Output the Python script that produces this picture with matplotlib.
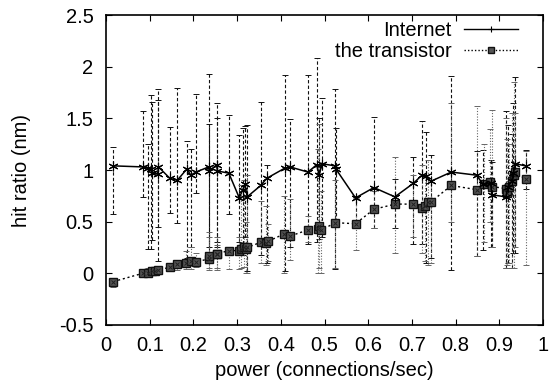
import matplotlib
matplotlib.use("Agg")
import matplotlib.pyplot as plt
from matplotlib.lines import Line2D
import numpy as np

plt.rcParams["font.family"] = ["Liberation Sans", "DejaVu Sans"]

# Internet series: x, mean, min, max
inet_x = [0.017, 0.084, 0.095, 0.102, 0.105, 0.118, 0.120, 0.146, 0.163, 0.185,
          0.194, 0.206, 0.235, 0.236, 0.253, 0.255, 0.281, 0.305, 0.313, 0.318,
          0.323, 0.354, 0.368, 0.410, 0.421, 0.462, 0.482, 0.488, 0.494, 0.525,
          0.526, 0.571, 0.613, 0.661, 0.703, 0.723, 0.732, 0.743, 0.790, 0.848,
          0.863, 0.880, 0.883, 0.915, 0.920, 0.928, 0.932, 0.937, 0.960]
inet_y = [1.04, 1.03, 1.02, 1.01, 0.97, 0.96, 1.03, 0.92, 0.90, 1.01,
          0.95, 0.98, 1.03, 0.99, 1.05, 0.99, 0.97, 0.73, 0.81, 0.86,
          0.74, 0.85, 0.92, 1.02, 1.03, 0.98, 1.05, 0.95, 1.06, 1.04,
          1.01, 0.73, 0.83, 0.74, 0.87, 0.95, 0.94, 0.89, 0.98, 0.95,
          0.86, 0.87, 0.76, 0.74, 0.84, 0.89, 0.97, 1.06, 1.04]
inet_lo = [0.57, 0.74, 0.24, 0.24, 0.32, 0.12, 0.45, 0.58, 0.49, 0.15,
           0.25, 0.78, 0.18, 0.25, 0.25, 0.30, 0.57, 0.30, 0.18, 0.35,
           0.02, 0.18, 0.10, 0.02, 0.25, 0.28, 0.30, 0.33, 0.35, 0.04,
           0.45, 0.44, 0.44, 0.44, 0.28, 0.28, 0.10, 0.15, 0.03, 0.17,
           0.23, 0.25, 0.25, 0.05, 0.10, 0.05, 0.20, 0.20, 0.82]
inet_hi = [1.22, 1.57, 1.25, 1.73, 1.66, 1.78, 1.68, 1.42, 1.79, 1.28,
           1.20, 1.74, 1.93, 1.45, 1.65, 1.50, 1.53, 1.34, 1.41, 1.43,
           1.44, 1.66, 1.05, 1.92, 1.49, 1.92, 2.08, 1.50, 1.70, 1.78,
           1.41, 0.75, 1.51, 0.91, 1.13, 1.47, 1.37, 1.15, 1.91, 1.18,
           1.19, 1.10, 1.08, 1.57, 1.44, 1.35, 1.65, 1.90, 1.19]

# the transistor series: x, mean, min, max
tr_x = [0.017, 0.084, 0.095, 0.105, 0.112, 0.120, 0.146, 0.163, 0.183, 0.194,
        0.206, 0.235, 0.236, 0.253, 0.255, 0.281, 0.305, 0.310, 0.316, 0.320,
        0.323, 0.354, 0.365, 0.371, 0.407, 0.421, 0.462, 0.484, 0.488, 0.493,
        0.525, 0.571, 0.613, 0.662, 0.703, 0.722, 0.731, 0.737, 0.743, 0.790,
        0.848, 0.865, 0.879, 0.883, 0.915, 0.918, 0.923, 0.929, 0.934, 0.937,
        0.960]
tr_y = [-0.08, 0.00, 0.006, 0.02, 0.02, 0.03, 0.06, 0.09, 0.10, 0.115,
        0.11, 0.14, 0.17, 0.19, 0.19, 0.22, 0.22, 0.24, 0.25, 0.24,
        0.25, 0.30, 0.29, 0.31, 0.38, 0.36, 0.42, 0.43, 0.46, 0.42,
        0.49, 0.48, 0.62, 0.67, 0.67, 0.63, 0.65, 0.69, 0.69, 0.85,
        0.81, 0.86, 0.88, 0.84, 0.82, 0.78, 0.84, 0.89, 0.95, 0.98,
        0.91]
tr_lo = [-0.13, -0.03, -0.03, 0.00, 0.00, 0.00, 0.03, 0.03, 0.04, 0.04,
         0.06, 0.03, 0.05, 0.03, 0.05, 0.04, 0.04, 0.05, 0.06, 0.00,
         0.00, 0.10, 0.08, 0.12, 0.00, 0.13, 0.30, 0.00, 0.05, 0.00,
         0.05, 0.23, 0.44, 0.20, 0.35, 0.20, 0.12, 0.08, 0.10, 0.50,
         0.17, 0.30, 0.50, 0.25, 0.05, 0.08, 0.10, 0.05, 0.05, 0.25,
         0.08]
tr_hi = [-0.05, 0.02, 0.05, 0.05, 0.05, 0.06, 0.09, 0.12, 0.22, 0.25,
         0.20, 0.35, 0.40, 0.27, 0.35, 0.25, 0.35, 0.85, 0.90, 0.50,
         0.95, 0.70, 0.65, 0.48, 0.75, 0.72, 0.55, 1.20, 1.45, 0.80,
         0.90, 0.73, 0.80, 1.13, 0.95, 1.05, 0.95, 1.10, 0.90, 1.65,
         1.62, 1.25, 1.40, 1.58, 1.50, 1.30, 1.25, 1.55, 1.85, 1.55,
         1.18]

x_ticks = [0, 0.1, 0.2, 0.3, 0.4, 0.5, 0.6, 0.7, 0.8, 0.9, 1]
x_labels = ["0", "0.1", "0.2", "0.3", "0.4", "0.5", "0.6", "0.7", "0.8", "0.9", "1"]
y_ticks = [-0.5, 0, 0.5, 1, 1.5, 2, 2.5]
y_labels = ["-0.5", "0", "0.5", "1", "1.5", "2", "2.5"]

FS = 14.5

fig = plt.figure(figsize=(5.51, 3.90), dpi=100)
ax = fig.add_axes([0.1924, 0.1667, 0.7931, 0.7948])

iy = np.array(inet_y)
ty = np.array(tr_y)
ierr = [iy - np.array(inet_lo), np.array(inet_hi) - iy]
terr = [ty - np.array(tr_lo), np.array(tr_hi) - ty]

eb1 = ax.errorbar(inet_x, inet_y, yerr=ierr, fmt="none", ecolor="#111111",
                  elinewidth=0.8, capsize=2, capthick=0.7)
eb1[2][0].set_linestyle((0, (3, 2)))
eb2 = ax.errorbar(tr_x, tr_y, yerr=terr, fmt="none", ecolor="#666666",
                  elinewidth=0.8, capsize=2, capthick=0.7)
eb2[2][0].set_linestyle((0, (1, 1.5)))

ax.plot(tr_x, tr_y, color="black", linestyle=(0, (1.5, 2)), linewidth=1.0,
        marker="s", markersize=5.5, markerfacecolor="#555555",
        markeredgecolor="#111111", markeredgewidth=1.0, zorder=4)
ax.plot(tr_x, tr_y, linestyle="none", marker="x", markersize=3,
        color="#222222", markeredgewidth=0.7, zorder=5)
ax.plot(inet_x, inet_y, color="black", linestyle="-", linewidth=1.1,
        marker=(6, 2, 0), markersize=7, markeredgewidth=0.8, zorder=6)

ax.set_xlim(0, 1)
ax.set_ylim(-0.5, 2.5)
ax.set_xticks(x_ticks)
ax.set_xticklabels(x_labels)
ax.set_yticks(y_ticks)
ax.set_yticklabels(y_labels)
ax.tick_params(direction="in", length=4, width=0.8, top=True, right=True,
               labelsize=FS)
ax.tick_params(axis="x", pad=8)
ax.tick_params(axis="y", pad=9)
for s in ax.spines.values():
    s.set_linewidth(1.2)

ax.set_xlabel("power (connections/sec)", fontsize=FS, labelpad=4)
ax.set_ylabel("hit ratio (nm)", fontsize=FS, labelpad=20)

handles = [
    Line2D([], [], color="black", linestyle="-", linewidth=1.0,
           marker="+", markersize=5, markeredgewidth=0.8),
    Line2D([], [], color="black", linestyle=(0, (1, 1.5)), linewidth=1.0,
           marker="s", markersize=4, markerfacecolor="#555555",
           markeredgecolor="#111111"),
]
ax.legend(handles, ["Internet", "the transistor"], loc="upper right",
          frameon=False, markerfirst=False, fontsize=FS, handlelength=2.7,
          handletextpad=0.6, labelspacing=0.1, borderaxespad=0.3,
          bbox_to_anchor=(0.975, 1.025))

fig.savefig("out.png", dpi=100)
